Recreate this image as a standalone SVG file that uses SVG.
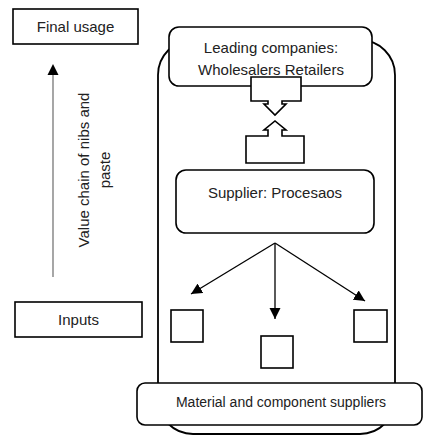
<svg xmlns="http://www.w3.org/2000/svg" width="423" height="437" viewBox="0 0 423 437">
<style>
  .box{fill:#fff;stroke:#000;stroke-width:1.6}
  .t{font-family:"Liberation Sans",Arial,sans-serif;font-size:15px;fill:#222;text-anchor:middle}
  .t14{font-size:14px}
  .con{stroke:#000;stroke-width:1.3;fill:none}
</style>
<defs>
  <marker id="ah" markerUnits="userSpaceOnUse" markerWidth="12" markerHeight="12" viewBox="0 0 12 12" refX="11" refY="6" orient="auto">
    <path d="M0,0.5 L11,6 L0,11.5 Z" fill="#000"/>
  </marker>
</defs>
<rect width="423" height="437" fill="#fff"/>

<g id="outer-frame">
  <rect x="158" y="40" width="237" height="394" rx="35" ry="35" fill="none" stroke="#000" stroke-width="1.8"/>
</g>

<g id="final-usage">
  <rect class="box" x="13" y="9" width="125" height="35"/>
  <text class="t" x="75.5" y="32">Final usage</text>
</g>

<g id="inputs">
  <rect class="box" x="15" y="302" width="127" height="35"/>
  <text class="t" x="78.5" y="325">Inputs</text>
</g>

<g id="value-chain-label">
  <text class="t" transform="translate(89,170) rotate(-90)">Value chain of nibs and</text>
  <text class="t" transform="translate(110,170) rotate(-90)">paste</text>
</g>

<g id="leading-companies">
  <rect class="box" x="169" y="27" width="203" height="59" rx="10" ry="10"/>
  <text class="t" x="271" y="53">Leading companies:</text>
  <text class="t" x="271" y="75">Wholesalers Retailers</text>
</g>

<g id="down-callout">
  <path class="box" d="M251,77 H301 V101 H282 V104 H286 L275,115 L264,104 H268 V101 H251 Z"/>
</g>

<g id="up-callout">
  <path class="box" d="M246,136 H268 V130 H264 L275,121 L286,130 H282 V136 H304 V163 H246 Z"/>
</g>

<g id="supplier">
  <rect class="box" x="176" y="170" width="198" height="63" rx="10" ry="10"/>
  <text class="t" x="275" y="198">Supplier: Procesaos</text>
</g>

<g id="connectors">
  <line class="con" x1="275" y1="243" x2="191" y2="294" marker-end="url(#ah)"/>
  <line class="con" x1="275" y1="243" x2="275" y2="319" marker-end="url(#ah)"/>
  <line class="con" x1="275" y1="243" x2="365" y2="301" marker-end="url(#ah)"/>
  <line x1="53" y1="277" x2="53" y2="66" stroke="#777" stroke-width="1.3"/>
  <path d="M47.5,75 L53,64 L58.5,75 Z" fill="#000"/>
</g>

<g id="square-left">
  <rect class="box" x="171" y="310" width="32" height="32"/>
</g>
<g id="square-middle">
  <rect class="box" x="261" y="336" width="32" height="32"/>
</g>
<g id="square-right">
  <rect class="box" x="354" y="310" width="33" height="32"/>
</g>

<g id="material-suppliers">
  <rect class="box" x="137" y="383" width="285" height="42" rx="8" ry="8"/>
  <text class="t t14" x="281" y="407">Material and component suppliers</text>
</g>
</svg>
